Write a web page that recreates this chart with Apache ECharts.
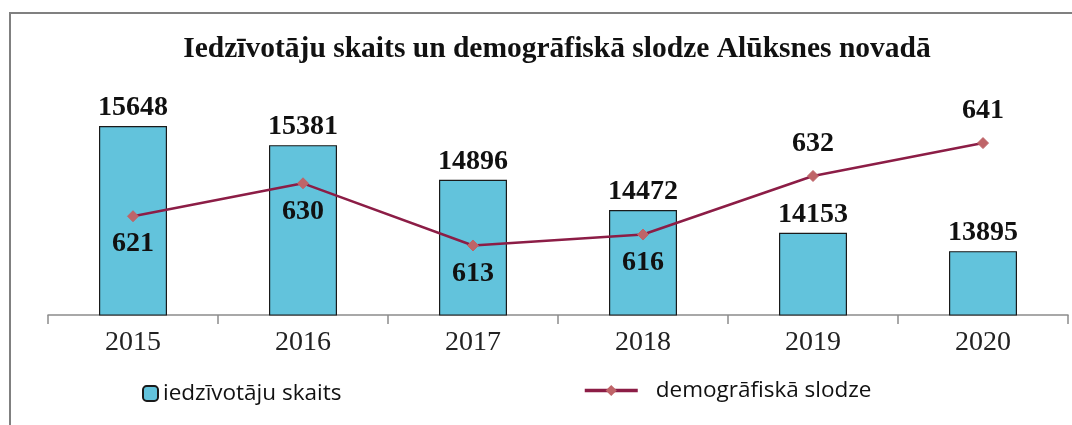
<!DOCTYPE html>
<html>
<head>
<meta charset="utf-8">
<script src="https://cdn.jsdelivr.net/npm/echarts@6/dist/echarts.min.js"></script>
<style>
  html, body { margin: 0; padding: 0; background: #fff; overflow: hidden; }
  #chart { width: 1072px; height: 425px; position: relative; }
  #frame {
    position: absolute; left: 9px; top: 12px; width: 1063px; height: 413px;
    border-left: 2px solid #808080; border-top: 2px solid #808080;
    box-sizing: border-box; pointer-events: none; z-index: 5;
  }
</style>
</head>
<body>
<div id="chart"></div>
<div id="frame"></div>
<script>
// gadi
const years = ['2015', '2016', '2017', '2018', '2019', '2020']
// iedzīvotāju skaits
const iedzivotaji = [15648, 15381, 14896, 14472, 14153, 13895]
// demogrāfiskā slodze
const slodze = [621, 630, 613, 616, 632, 641]

const serif = '"Liberation Serif", "Times New Roman", serif'
const sans = '"Open Sans", Lato, sans-serif'

var chart = echarts.init(document.getElementById('chart'))
chart.setOption({
  animation: false,
  title: {
    text: 'Iedzīvotāju skaits un demogrāfiskā slodze Alūksnes novadā',
    left: 552,
    textAlign: 'center',
    top: 29,
    textStyle: { fontFamily: serif, fontSize: 29.5, fontWeight: 'bold', color: '#111' }
  },
  legend: [
    {
      data: ['iedzīvotāju skaits'],
      left: 142,
      top: 382,
      padding: 0,
      itemWidth: 15,
      itemHeight: 15,
      textStyle: { fontFamily: sans, fontSize: 22.5, color: '#111' }
    },
    {
      data: ['demogrāfiskā slodze'],
      left: 583,
      top: 379,
      padding: 0,
      itemWidth: 53,
      itemHeight: 14,
      lineStyle: { width: 3.5 },
      textStyle: { fontFamily: sans, fontSize: 22.5, color: '#111', padding: [0, 0, 0, 13] }
    }
  ],
  grid: { left: 48, right: 4, top: 101, bottom: 110 },
  xAxis: {
    type: 'category',
    data: years,
    axisLine: { lineStyle: { color: '#8c8c8c', width: 1.5 } },
    axisTick: { show: true, alignWithLabel: false, interval: 0, length: 9, lineStyle: { color: '#8c8c8c', width: 1.5 } },
    axisLabel: { fontFamily: serif, fontSize: 28, color: '#222', margin: 14 }
  },
  yAxis: [
    { type: 'value', min: 13000, max: 16000, show: false, splitLine: { show: false } },
    { type: 'value', min: 594, max: 652.5, show: false, splitLine: { show: false } }
  ],
  series: [
    {
      name: 'iedzīvotāju skaits',
      type: 'bar',
      data: iedzivotaji,
      barWidth: 68,
      itemStyle: { color: '#62C3DC', borderColor: '#1a1a1a', borderWidth: 1.2 },
      label: {
        show: true,
        position: 'top',
        distance: 4,
        fontFamily: serif,
        fontSize: 28,
        fontWeight: 'bold',
        color: '#111'
      }
    },
    {
      name: 'demogrāfiskā slodze',
      type: 'line',
      yAxisIndex: 1,
      data: slodze.map((v, i) => ({
        value: v,
        label: { position: i < 4 ? 'bottom' : 'top', distance: i < 4 ? 8 : 12 }
      })),
      lineStyle: { color: '#8C1D46', width: 2.5 },
      symbol: 'diamond',
      symbolSize: 11,
      itemStyle: { color: '#BF6468', borderColor: '#BF6468' },
      label: {
        show: true,
        fontFamily: serif,
        fontSize: 28,
        fontWeight: 'bold',
        color: '#111'
      },
      z: 3
    }
  ]
})
</script>
</body>
</html>
